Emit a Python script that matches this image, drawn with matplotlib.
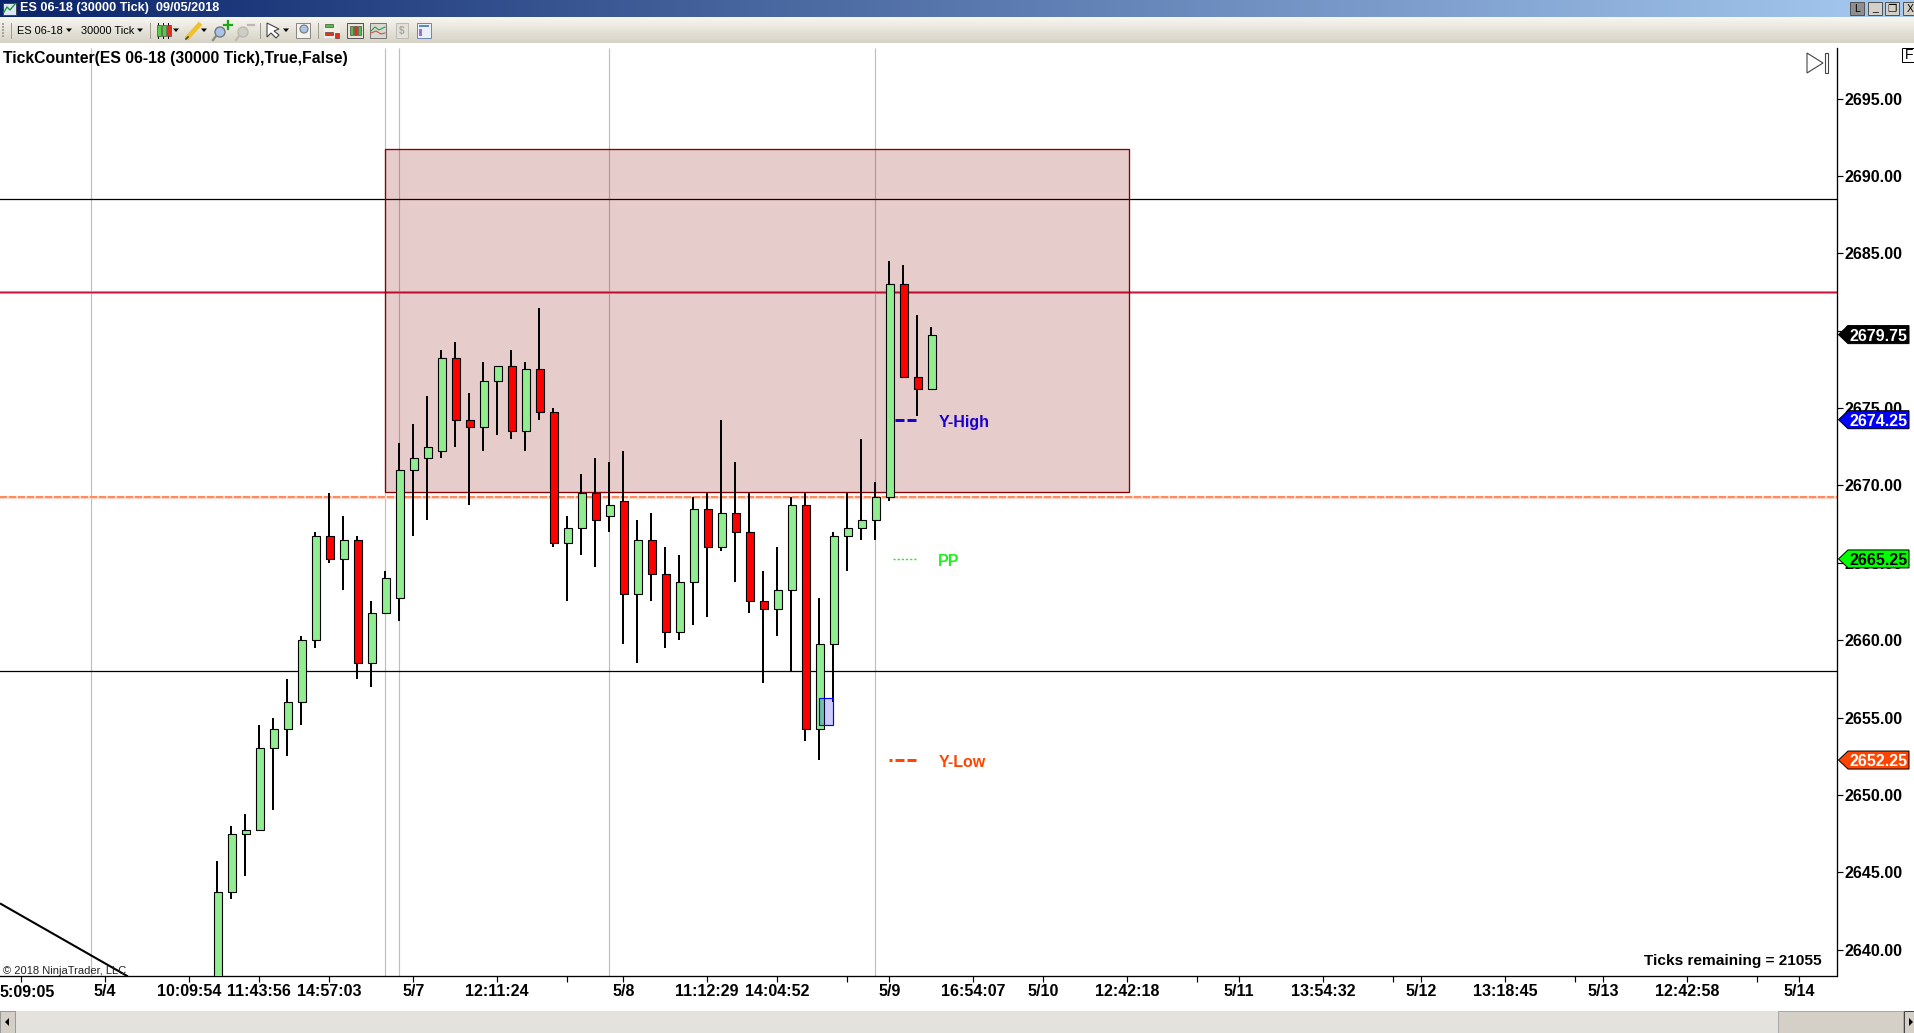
import numpy as np
import matplotlib
matplotlib.use("Agg")
import matplotlib.pyplot as plt
from matplotlib.patches import Polygon, Rectangle, Circle
from matplotlib.transforms import blended_transform_factory

plt.rcParams['font.family'] = ['Liberation Sans', 'DejaVu Sans']

# ---------- data (prices) ----------
highs = [2645.75,2648,2648.75,2654.5,2655,2657.5,2660.25,2667,2669.5,2668,2666.75,2662.5,2664.5,2672.75,2674,2675.75,
         2678.75,2679.25,2676,2678,2677.75,2678.75,2678,2681.5,2675,2668,2670.75,2671.75,2671.5,2672.25,2667.75,2668.25,
         2666,2665.5,2669.25,2669.5,2674.25,2671.5,2669.5,2664.5,2666,2669.25,2669.5,2662.75,2667,2669.5,2673,2670.25,
         2684.5,2684.25,2681,2680.25]
lows = [2629,2643.25,2644.75,2647.75,2649,2652.5,2654.5,2659.5,2665,2663.25,2657.5,2657,2661.75,2661.25,2666.75,2667.75,
        2671.75,2672.5,2668.75,2672.25,2673.25,2673,2672.25,2674.25,2666,2662.5,2665.5,2664.75,2667,2659.75,2658.5,2662.5,
        2659.5,2660,2661,2661.5,2665.75,2663.75,2661.75,2657.25,2660.25,2658,2653.5,2652.25,2656,2664.5,2666.5,2666.5,
        2669,2677,2674.5,2676.25]
body_tops = [2643.75,2647.5,2647.75,2653,2654.25,2656,2660,2666.75,2666.75,2666.5,2666.5,2661.75,2664,2671,2671.75,2672.5,
             2678.25,2678.25,2674.25,2676.75,2677.75,2677.75,2677.5,2677.5,2674.75,2667.25,2669.5,2669.5,2668.75,2669,2666.5,2666.5,
             2664.25,2663.75,2668.5,2668.5,2668.25,2668.25,2667,2662.5,2663.25,2668.75,2668.75,2659.75,2666.75,2667.25,2667.75,2669.25,
             2683,2683,2677,2679.75]
body_bottoms = [2630,2643.75,2647.5,2647.75,2653,2654.25,2656,2660,2665.25,2665.25,2658.5,2658.5,2661.75,2662.75,2671,2671.75,
                2672.25,2674.25,2673.75,2673.75,2676.75,2673.5,2673.5,2674.75,2666.25,2666.25,2667.25,2667.75,2668,2663,2663,2664.25,
                2660.5,2660.5,2663.75,2666,2666,2667,2662.5,2662,2662,2663.25,2654.25,2654.25,2659.75,2666.75,2667.25,2667.75,
                2669.25,2677,2676.25,2676.25]
is_up = [1,1,1,1,1,1,1,1,0,1,0,1,1,1,1,1,1,0,0,1,1,0,1,0,0,1,1,0,1,0,1,0,0,1,1,0,1,0,0,0,1,1,0,1,1,1,1,1,1,0,0,1]

level_upper = 2688.5
level_red = 2682.5
level_pivot = 2669.25
level_lower = 2658.0
zone_prices = (2669.6, 2691.75)
zone_bars = (12, 65.15)
session_bars = [-9, 12, 13, 28, 47]
y_ticks = [2640, 2645, 2650, 2655, 2660, 2665, 2670, 2675, 2680, 2685, 2690, 2695]
x_tick_bars = [-14,-8,-2,3,8,14,20,25,29,35,40,45,48,54,59,65,70,73,79,84,86,92,97,99,105,110,113]
x_tick_text = ["","5/4","10:09:54","11:43:56","14:57:03","5/7","12:11:24","","5/8","11:12:29","14:04:52","","5/9",
               "16:54:07","5/10","12:42:18","","5/11","13:54:32","","5/12","13:18:45","","5/13","12:42:58","","5/14"]
pivot_names = ["Y-High", "PP", "Y-Low"]
pivot_values = [2674.25, 2665.25, 2652.25]
pivot_colors = ["#1A00CC", "#20F020", "#FF4500"]
last_price = 2679.75

W, H = 1914, 1033
FS = 11.5
FS_CAP = 11.1
fig = plt.figure(figsize=(W/100, H/100), dpi=100, facecolor="white")

# ---------- window chrome ----------
ch = fig.add_axes([0, 0, 1, 1], zorder=0)
ch.set_xlim(0, W); ch.set_ylim(H, 0); ch.axis("off")
grad = np.linspace(0, 1, 256)[None, :, None]
c0, c1 = np.array([10, 36, 106])/255, np.array([166, 202, 240])/255
ch.imshow(c0 + (c1-c0)*grad, extent=(0, W, 17, 0), aspect="auto", zorder=1)
gradv = np.linspace(0, 1, 64)[:, None, None]
c0, c1 = np.array([247, 246, 240])/255, np.array([214, 210, 198])/255
ch.imshow(c0 + (c1-c0)*gradv, extent=(0, W, 43, 17), aspect="auto", zorder=1)
ch.set_xlim(0, W); ch.set_ylim(H, 0)

def rect(x, y, w, h, fc, ec="none", lw=0.72, z=3, **k):
    ch.add_patch(Rectangle((x, y), w, h, fc=fc, ec=ec, lw=lw, zorder=z, **k))
def arrow(x, y):
    ch.add_patch(Polygon([(x-3, y-1.5), (x+3, y-1.5), (x, y+2)], fc="black", ec="none", zorder=3))
def sep(x):
    ch.plot([x, x], [23, 38], color="#A09C90", lw=0.72, zorder=3)

# title bar
rect(3, 3, 13, 12, "#DDE6F5", "#445")
ch.plot([4, 7, 10, 15], [12, 7, 10, 4], color="#1A9A3A", lw=1, zorder=4)
ch.text(20, 8.5, "ES 06-18 (30000 Tick)  09/05/2018", color="white", fontsize=9.05, fontweight="bold", va="center", zorder=4)
for x, t in [(1850, "L"), (1868, "_"), (1885, "❐"), (1903, "X")]:
    rect(x, 2, 14, 13, "#D4D0C8" if t != "L" else "#8E8E8E", "#555555")
    ch.text(x+7, 8.5, t, fontsize=7.5, ha="center", va="center", zorder=4, color="black", family=["Liberation Sans", "DejaVu Sans"])

# toolbar
for yy in range(23, 36, 3):
    rect(2, yy, 2, 2, "#A8A498")
for x in [11, 150, 260, 318]:
    sep(x)
ch.text(17, 30.5, "ES 06-18", fontsize=7.9, va="center", zorder=4)
arrow(69, 30)
ch.text(81, 30.5, "30000 Tick", fontsize=7.9, va="center", zorder=4)
arrow(140, 30)
for x, c in [(157, "#55CC44"), (162, "#55CC44"), (167, "#E03020")]:
    ch.plot([x+1, x+1], [23, 38], color="black", lw=0.7, zorder=3)
    rect(x, 25, 3.5, 11, c, "#333333", lw=0.4, z=4)
arrow(176, 30)
ch.plot([188, 199], [37, 25], color="#F0C030", lw=3.4, zorder=3)
ch.plot([186, 188], [39, 37], color="#444444", lw=1.2, zorder=3)
arrow(204, 30)
ch.add_patch(Circle((220, 32), 5, fc="#A8C4E8", ec="#777777", lw=1, zorder=3))
ch.plot([216, 213], [36, 40], color="#888888", lw=1.6, zorder=3)
ch.plot([224, 232], [25, 25], color="#18A818", lw=1.6, zorder=4); ch.plot([228, 228], [21, 29], color="#18A818", lw=1.6, zorder=4)
ch.add_patch(Circle((243, 32), 5, fc="#CFCDC5", ec="#BBBBB0", lw=1, zorder=3))
ch.plot([239, 236], [36, 40], color="#BBBBB0", lw=1.6, zorder=3)
ch.plot([248, 254], [25, 25], color="#B8B8B0", lw=1.6, zorder=4)
ch.add_patch(Polygon([(267, 23), (267, 37), (271, 33), (276, 38), (279, 35), (274, 31), (279, 29)], fc="white", ec="#444444", lw=0.8, zorder=3))
arrow(286, 30)
rect(296, 23, 14, 15, "#F4F2EA", "#888888")
ch.add_patch(Circle((304, 29), 4, fc="#A8C4E8", ec="#777777", lw=0.8, zorder=4))
rect(324, 23, 16, 15, "#F0EEE4", "none")
rect(325, 24, 8, 3, "#55BB44", "#333333", lw=0.4, z=4); rect(325, 32, 8, 3, "#E03020", "#333333", lw=0.4, z=4); rect(335, 33, 4, 5, "#E03020", "#333333", lw=0.4, z=4)
rect(347, 23, 16, 15, "#E8E6DC", "#555555")
for x, c in [(350, "#55BB44"), (354, "#E03020"), (358, "#55BB44")]:
    rect(x, 26, 3, 9, c, "#333333", lw=0.4, z=4)
rect(370, 23, 16, 15, "#D8D8D0", "#777777")
ch.plot([371, 375, 379, 385], [31, 27, 30, 27], color="#30A050", lw=0.8, zorder=4)
ch.plot([371, 376, 381, 385], [33, 31, 34, 33], color="#D05050", lw=0.8, zorder=4)
rect(396, 23, 12, 15, "#E2E0D8", "#BDBBB2")
ch.text(402, 31, "$", fontsize=7, fontweight="bold", color="#A8A69E", ha="center", va="center", zorder=4)
rect(417, 23, 14, 15, "#EAF0FA", "#7088B0")
rect(419, 25, 10, 2, "#6088C8", z=4); rect(419, 29, 3, 7, "#A070C8", z=4)

# bottom scrollbar
rect(0, 1011, W, 22, "#E4E2DC")
rect(0, 1011, 15, 22, "#D4D0C8", "#999999")
ch.add_patch(Polygon([(5, 1022), (9, 1018), (9, 1026)], fc="black", zorder=4))
rect(1778, 1011, 125, 22, "#D4D0C8", "#AAAAAA")
rect(1904, 1011, 10, 22, "#D4D0C8", "#444444")
ch.add_patch(Polygon([(1913, 1022), (1909, 1018), (1909, 1026)], fc="black", zorder=4))

# ---------- main chart ----------
PX_LEFT, PX_RIGHT, PX_TOP, PX_BOTTOM = 0, 1837, 48, 975.5
Y_ANCHOR = 98.7
ax = fig.add_axes([PX_LEFT/W, 1-PX_BOTTOM/H, (PX_RIGHT-PX_LEFT)/W, (PX_BOTTOM-PX_TOP)/H], zorder=2)
bar_px = 14.0
x0 = 217.2
px_per_pt = 15.47
ax.set_xlim((PX_LEFT-x0)/bar_px, (PX_RIGHT-x0)/bar_px)
ax.set_ylim(2695-(PX_BOTTOM-Y_ANCHOR)/px_per_pt, 2695+(Y_ANCHOR-PX_TOP)/px_per_pt)

ax.vlines(session_bars, 0, 1, transform=ax.get_xaxis_transform(), color="#BEBEBE", lw=0.85, zorder=1)
ax.axhline(level_upper, color="black", lw=0.9, zorder=1.2)
ax.axhline(level_lower, color="black", lw=0.9, zorder=1.2)
ax.axhline(level_red, color="#F08098", lw=2.0, zorder=1.2)
ax.axhline(level_red, color="#C8143C", lw=0.9, zorder=1.3)
ax.axhline(level_pivot, color="#FFD8C8", lw=2.4, zorder=1.2)
ax.axhline(level_pivot, color="#FF8A60", lw=1.44, ls=(0, (3.5, 1.0)), zorder=1.3)
ax.add_patch(Rectangle((zone_bars[0], zone_prices[0]), zone_bars[1]-zone_bars[0], zone_prices[1]-zone_prices[0],
                       fc=(0.545, 0, 0, 0.2), ec="#8B0000", lw=0.95, zorder=1.5))
# trend line (runs off the bottom-left corner)
ax.plot([-15.45, -6.45], [2642.95, 2638.3], color="black", lw=1.5, zorder=1.6)

idx = np.arange(len(highs))
wicks = ax.vlines(idx, lows, highs, color="black", lw=1.44, zorder=3)
wicks.set_snap(True)
colors = ["#90EE90" if u else "#FF0000" for u in is_up]
ax.bar(idx+0.04, np.array(body_tops)-np.array(body_bottoms), bottom=body_bottoms, width=0.56,
       color=colors, edgecolor="black", linewidth=0.8, zorder=3.2)
# highlighted blue block
ax.add_patch(Rectangle((43.0, 2654.5), 1.0, 1.75, fc=(0, 0, 1, 0.2), ec="#0000FF", lw=0.85, zorder=3.4))

# pivot segments and names (dashes counted from the right-hand end)
seg = [(49.9, 48.4), (49.9, 48.1), (49.9, 47.95)]
styles = [dict(lw=2.16, ls=(0, (3, 1))), dict(lw=1.0, ls=(0, (1.6, 1.4))), dict(lw=2.16, ls=(0, (3, 1)))]
label_drop = 2.5/px_per_pt
for name, val, col, s, st in zip(pivot_names, pivot_values, pivot_colors, seg, styles):
    ax.plot(s, [val, val], color=col, solid_capstyle="butt", dash_capstyle="butt", zorder=3.5, **st)
    ax.text(51.5, val-label_drop, name, color=col, fontsize=FS, fontweight="bold", va="center", ha="left", zorder=3.6)

# axes styling
for s in ["top", "left"]:
    ax.spines[s].set_visible(False)
for s in ["right", "bottom"]:
    ax.spines[s].set_linewidth(0.95)
ax.yaxis.tick_right()
ax.set_yticks(y_ticks)
ax.set_yticklabels([f"{v:.2f}" for v in y_ticks], fontsize=FS, fontweight="bold")
ax.set_xticks(x_tick_bars)
ax.set_xticklabels(x_tick_text, fontsize=FS, fontweight="bold")
ax.tick_params(axis="y", length=4.5, width=0.85, pad=1.2)
ax.tick_params(axis="x", length=4.5, width=0.85, pad=1.8)

# clipped first x label, left-aligned at the window edge
ax.annotate("5:09:05", xy=(0, 0), xycoords="axes fraction", xytext=(0, -7.1), textcoords="offset points",
            fontsize=FS, fontweight="bold", va="top", ha="left", annotation_clip=False)

# price markers on the axis
bt = blended_transform_factory(fig.transFigure, ax.transData)
marks = [(last_price, "black", "white")] + [(v, c, "black" if c == "#00FF00" else "white") for v, c in
         zip(pivot_values, ["#0000FF", "#00FF00", "#FF4500"])]
hp = 9/px_per_pt
for val, fc, tc in marks:
    verts = [(1838.5/W, val), (1848/W, val+hp), (1909/W, val+hp), (1909/W, val-hp), (1848/W, val-hp)]
    ax.add_patch(Polygon(verts, closed=True, transform=bt, fc=fc, ec="black", lw=0.72, clip_on=False, zorder=6))
    ax.text(1849/W, val, f"{val:.2f}", transform=bt, color=tc, fontsize=FS, fontweight="bold",
            va="center_baseline", ha="left", clip_on=False, zorder=7)

# overlaid captions
def ftext(px, py, s, **k):
    fig.text(px/W, 1-py/H, s, zorder=5, **k)
ftext(3, 58.5, "TickCounter(ES 06-18 (30000 Tick),True,False)", fontsize=11.3, fontweight="bold", va="center", ha="left")
ftext(3, 970.5, "© 2018 NinjaTrader, LLC", fontsize=8.05, color="#222222", va="center", ha="left")
ftext(1822, 961.5, "Ticks remaining = 21055", fontsize=FS_CAP, fontweight="bold", va="center", ha="right")

# jump-to-end glyph and "F" tab
yp = lambda py: 2695+(Y_ANCHOR-py)/px_per_pt
ax.add_patch(Polygon([(1807/W, yp(53)), (1807/W, yp(73)), (1823/W, yp(63))],
                     closed=True, transform=bt, fc="white", ec="#444444", lw=0.8, clip_on=False, zorder=6))
ax.add_patch(Rectangle((1824.5/W, yp(73)), 3.5/W, 20/px_per_pt, transform=bt, fc="white", ec="#444444", lw=0.8,
                       clip_on=False, zorder=6))
ax.add_patch(Rectangle((1902/W, yp(62)), 14/W, 14/px_per_pt, transform=bt, fc="white", ec="black", lw=0.72,
                       clip_on=False, zorder=6))
ax.text(1905/W, yp(55), "F", transform=bt, fontsize=FS-1.5, va="center", ha="left", clip_on=False, zorder=7)

fig.savefig("out.png", dpi=100, facecolor="white")
